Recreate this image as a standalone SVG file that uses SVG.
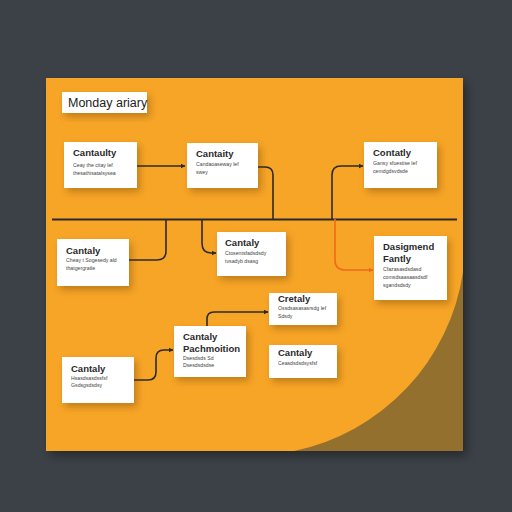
<svg xmlns="http://www.w3.org/2000/svg" width="512" height="512" viewBox="0 0 512 512">
<defs>
<filter id="sh" x="-20%" y="-20%" width="150%" height="160%">
<feDropShadow dx="3" dy="4" stdDeviation="3.5" flood-color="#5a3500" flood-opacity="0.35"/>
</filter>
<filter id="psh" x="-10%" y="-10%" width="130%" height="130%">
<feDropShadow dx="4" dy="5" stdDeviation="5" flood-color="#000" flood-opacity="0.35"/>
</filter>
<marker id="ah" viewBox="0 0 10 10" refX="9" refY="5" markerWidth="5" markerHeight="5" orient="auto" markerUnits="userSpaceOnUse">
<path d="M0,0 L10,5 L0,10 Z" fill="#2b2b2b"/>
</marker>
<marker id="ao" viewBox="0 0 10 10" refX="9" refY="5" markerWidth="5" markerHeight="5" orient="auto" markerUnits="userSpaceOnUse">
<path d="M0,0 L10,5 L0,10 Z" fill="#f06a1c"/>
</marker>
</defs>
<style>
.card{fill:#ffffff;filter:url(#sh)}
.t{font-family:"Liberation Sans",Arial,sans-serif;font-size:9.5px;font-weight:bold;fill:#2a2a2a}
.s{font-family:"Liberation Sans",Arial,sans-serif;font-size:5.2px;fill:#444}
.c{fill:none;stroke:#2b2b2b;stroke-width:1.6}
.co{fill:none;stroke:#f06a1c;stroke-width:1.6}
</style>
<rect width="512" height="512" fill="#3b4147"/>
<g id="panel">
<rect x="46" y="78" width="417" height="373" fill="#f7a526" filter="url(#psh)"/>
<path d="M463,272 A215,215 0 0 1 294,451 L463,451 Z" fill="#94702f"/>
</g>
<g id="title">
<rect x="62" y="92" width="85" height="21" class="card"/>
<text x="68" y="107" font-family="Liberation Sans,Arial,sans-serif" font-size="12.5" fill="#222">Monday ariary</text>
</g>
<g id="connectors">
<line x1="52" y1="219.5" x2="457" y2="219.5" stroke="#2b2b2b" stroke-width="2"/>
<path class="c" d="M137,166 H185" marker-end="url(#ah)"/>
<path class="c" d="M258,167 H265 Q273,167 273,175 V219"/>
<path class="c" d="M332,219 V175 Q332,166 341,166 H363" marker-end="url(#ah)"/>
<path class="c" d="M129,260 H157 Q166,260 166,251 V219"/>
<path class="c" d="M202,219 V243 Q202,253 211,253 H216" marker-end="url(#ah)"/>
<path class="co" d="M335,219 V260 Q335,270 345,270 H373" marker-end="url(#ao)"/>
<path class="c" d="M207,326 V319 Q207,312 214,312 H268" marker-end="url(#ah)"/>
<path class="c" d="M134,380 H148 Q156,380 156,372 V358 Q156,350 164,350 H173" marker-end="url(#ah)"/>
</g>
<g id="cardA">
<rect x="64" y="142" width="73" height="46" class="card"/>
<text x="73" y="156" class="t">Cantaulty</text>
<text x="73" y="167" class="s">Ceay the citay lef</text>
<text x="73" y="175" class="s">thesathisatalsysea</text>
</g>
<g id="cardB">
<rect x="187" y="143" width="71" height="45" class="card"/>
<text x="196" y="157" class="t">Cantaity</text>
<text x="196" y="166" class="s">Candaoaseway lef</text>
<text x="196" y="174" class="s">swey</text>
</g>
<g id="cardC">
<rect x="364" y="142" width="73" height="46" class="card"/>
<text x="373" y="156" class="t">Contatly</text>
<text x="373" y="165" class="s">Gansy sfuestise lef</text>
<text x="373" y="173" class="s">cemdgdsvdsde</text>
</g>
<g id="cardD">
<rect x="57" y="239" width="72" height="47" class="card"/>
<text x="66" y="254" class="t">Cantaly</text>
<text x="66" y="262" class="s">Cheay t Sogesedy ald</text>
<text x="66" y="270" class="s">thatgergratle</text>
</g>
<g id="cardE">
<rect x="217" y="232" width="69" height="44" class="card"/>
<text x="225" y="246" class="t">Cantaly</text>
<text x="225" y="255" class="s">Ctosentsfadsdsdy</text>
<text x="225" y="263" class="s">tvsadyb dsasg</text>
</g>
<g id="cardF">
<rect x="374" y="236" width="73" height="64" class="card"/>
<text x="383" y="250" class="t">Dasigmend</text>
<text x="383" y="262" class="t">Fantly</text>
<text x="383" y="271" class="s">Cfazasasdsdasd</text>
<text x="383" y="279" class="s">comsdsaasaasdsdf</text>
<text x="383" y="287" class="s">sgandsdsdy</text>
</g>
<g id="cardG">
<rect x="269" y="293" width="68" height="32" class="card"/>
<text x="278" y="302" class="t">Cretaly</text>
<text x="278" y="310" class="s">Ossdsasasasrsdg lef</text>
<text x="278" y="318" class="s">Sdsdy</text>
</g>
<g id="cardH">
<rect x="174" y="326" width="72" height="51" class="card"/>
<text x="183" y="340" class="t">Cantaly</text>
<text x="183" y="352" class="t">Pachmoition</text>
<text x="183" y="360" class="s">Dsesdsds Sd</text>
<text x="183" y="367" class="s">Dsesdsdsdse</text>
</g>
<g id="cardI">
<rect x="62" y="357" width="72" height="46" class="card"/>
<text x="71" y="372" class="t">Cantaly</text>
<text x="71" y="380" class="s">Hsasdsasdssfsf</text>
<text x="71" y="387" class="s">Gsdsgsdsdsy</text>
</g>
<g id="cardJ">
<rect x="269" y="345" width="68" height="33" class="card"/>
<text x="278" y="356" class="t">Cantaly</text>
<text x="278" y="365" class="s">Ceasdsdsdsysfsf</text>
</g>
</svg>
